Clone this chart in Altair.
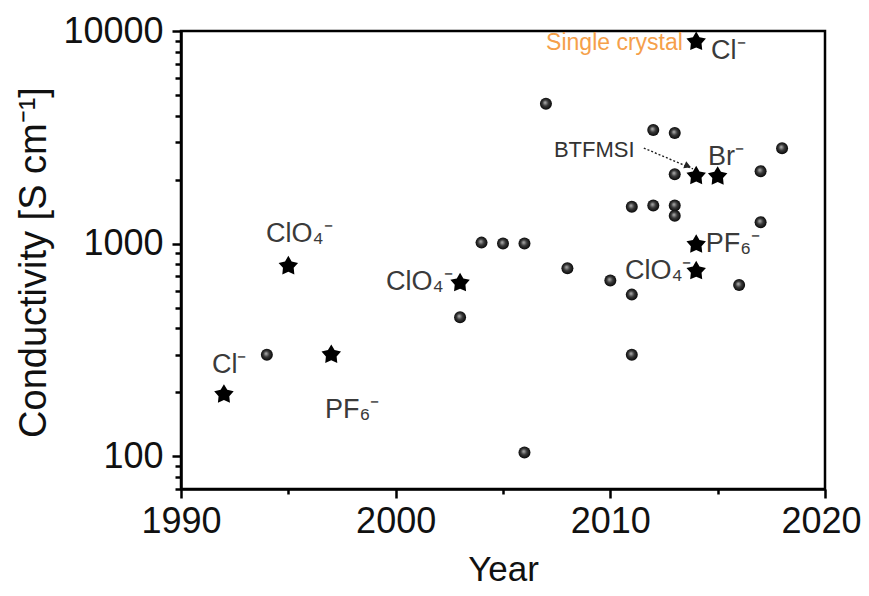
import altair as alt
import pandas as pd

# ---------------- data ----------------
ball_year = [1994, 2003, 2004, 2005, 2006, 2006, 2007, 2008, 2010, 2011, 2011,
             2011, 2012, 2012, 2013, 2013, 2013, 2013, 2016, 2017, 2017, 2018]
ball_cond = [300, 450, 1010, 1000, 1000, 104, 4550, 765, 670, 575, 1490,
             300, 3420, 1510, 3310, 2120, 1510, 1350, 638, 2190, 1260, 2810]

star_year = [1992, 1995, 1997, 2003, 2014, 2014, 2015, 2014, 2014]
star_cond = [195, 783, 300, 652, 8900, 2080, 2070, 990, 742]

ion_text = ["Cl⁻", "ClO₄⁻", "PF₆⁻", "ClO₄⁻", "Cl⁻", "Br⁻", "PF₆⁻", "ClO₄⁻"]
ion_year = [1991.44, 1993.96, 1996.71, 1999.55, 2014.69, 2014.55, 2014.45, 2010.68]
ion_cond = [268, 1109, 164, 659, 8050, 2553, 995, 743]

note_text = ["BTFMSI"]
note_year = [2007.37]
note_cond = [2754]

orange_text = ["Single crystal"]
orange_year = [2013.38]
orange_cond = [8780]

arrow_year = [2011.56, 2013.85]
arrow_cond = [2814, 2243]
head_year = [2013.61]
head_cond = [2316]

x_ticks = [1990, 1995, 2000, 2005, 2010, 2015, 2020]
y_ticks = [70, 80, 90, 100, 200, 300, 400, 500, 600, 700, 800, 900,
           1000, 2000, 3000, 4000, 5000, 6000, 7000, 8000, 9000, 10000]

# ---------------- tables ----------------
balls = pd.DataFrame({"year": ball_year, "cond": ball_cond})
stars = pd.DataFrame({"year": star_year, "cond": star_cond})
ions = pd.DataFrame({"year": ion_year, "cond": ion_cond, "txt": ion_text})
notes = pd.DataFrame({"year": note_year, "cond": note_cond, "txt": note_text})
oranges = pd.DataFrame({"year": orange_year, "cond": orange_cond, "txt": orange_text})
arrow = pd.DataFrame({"year": arrow_year, "cond": arrow_cond})
head = pd.DataFrame({"year": head_year, "cond": head_cond})

FONT = "Liberation Sans, Arial, Helvetica, sans-serif"

x_major = "datum.value % 10 === 0"
y_major = "datum.value === 100 || datum.value === 1000 || datum.value === 10000"

xaxis = alt.Axis(
    values=x_ticks, format="d", grid=False,
    labelExpr=f"({x_major}) ? datum.label : ''",
    tickSize={"condition": {"test": x_major, "value": 9}, "value": 5},
    labelOffset={"condition": {"test": "datum.value === 2020", "value": -4}, "value": 0},
    labelFlush=False, labelOverlap=False, labelPadding=6,
    titlePadding=13, titleFontSize=35,
)
yaxis = alt.Axis(
    values=y_ticks, format="d", grid=False,
    labelExpr=f"({y_major}) ? datum.label : ''",
    tickSize={"condition": {"test": y_major, "value": 9}, "value": 6},
    labelFlush=False, labelOverlap=False, labelPadding=9,
    titleX=-147, titleY=231, titleBaseline="middle", titleAngle=270,
    titleFontSize=38,
)

xs = alt.Scale(domain=[1990, 2020], nice=False, zero=False)
ys = alt.Scale(type="log", domain=[70, 10000], nice=False)

X = alt.X("year:Q", scale=xs, axis=xaxis, title="Year")
Y = alt.Y("cond:Q", scale=ys, axis=yaxis, title="Conductivity [S cm⁻¹]")

# five-point star outline in the unit box
star_path = ("M0,-1 L0.323,-0.445 L0.951,-0.309 L0.523,0.170 L0.588,0.809 "
             "L0,0.55 L-0.588,0.809 L-0.523,0.170 L-0.951,-0.309 L-0.323,-0.445 Z")

ball_fill = alt.RadialGradient(
    gradient="radial",
    stops=[alt.GradientStop(color="#b8b8b8", offset=0),
           alt.GradientStop(color="#3a3a3a", offset=0.45),
           alt.GradientStop(color="#000000", offset=1)],
    x1=0.42, y1=0.4, r1=0, x2=0.5, y2=0.5, r2=0.55,
)

ball_layer = alt.Chart(balls).mark_point(
    shape="circle", filled=True, size=144, fill=ball_fill, opacity=1, strokeWidth=0
).encode(x=X, y=Y)

star_layer = alt.Chart(stars).mark_point(
    shape=star_path, filled=True, size=420, fill="#000000", opacity=1, strokeWidth=0
).encode(x=X, y=Y)

ion_layer = alt.Chart(ions).mark_text(
    align="left", baseline="middle", fontSize=27, font=FONT, color="#3a3a3a"
).encode(x=X, y=Y, text="txt:N")

note_layer = alt.Chart(notes).mark_text(
    align="left", baseline="middle", fontSize=22, font=FONT, color="#333333"
).encode(x=X, y=Y, text="txt:N")

orange_layer = alt.Chart(oranges).mark_text(
    align="right", baseline="middle", fontSize=23, font=FONT, color="#F5A04A"
).encode(x=X, y=Y, text="txt:N")

arrow_layer = alt.Chart(arrow).mark_line(
    color="#222222", strokeWidth=1.4, strokeDash=[2, 2]
).encode(x=X, y=Y)

head_layer = alt.Chart(head).mark_point(
    shape="triangle-right", filled=True, size=60, fill="#222222", opacity=1,
    strokeWidth=0, angle=22
).encode(x=X, y=Y)

chart = alt.layer(
    arrow_layer, head_layer, ball_layer, star_layer,
    ion_layer, note_layer, orange_layer
).properties(
    width=644, height=458,
    autosize=alt.AutoSizeParams(type="none"),
    padding={"left": 173, "top": 23, "right": 36, "bottom": 99},
).configure_view(
    stroke="#000000", strokeWidth=2.5
).configure_axis(
    labelFont=FONT, titleFont=FONT, labelFontSize=36,
    labelColor="#111111", titleColor="#111111", titleFontWeight="normal",
    domainColor="#000000", domainWidth=2.5, tickColor="#000000", tickWidth=2.5,
)

chart.save("out.html", embed_options={"renderer": "svg", "actions": False})
